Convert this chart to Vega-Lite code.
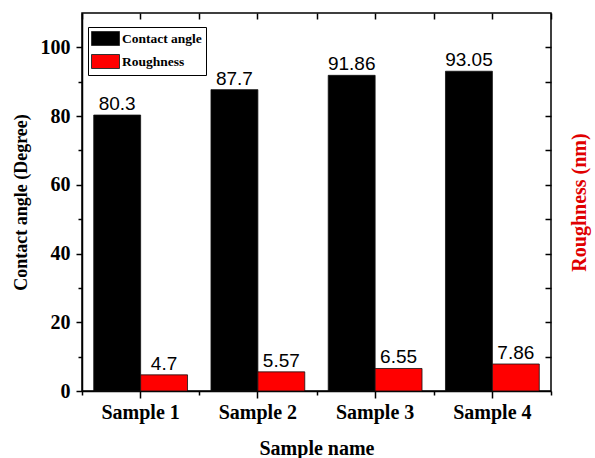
{
  "$schema": "https://vega.github.io/schema/vega-lite/v6.json",
  "width": 469,
  "height": 378,
  "autosize": "none",
  "padding": {"left": 82, "top": 13, "right": 44, "bottom": 67},
  "background": "white",
  "config": {
    "view": {"stroke": "black", "strokeWidth": 1.5},
    "axis": {
      "domainColor": "black", "domainWidth": 1.5, "tickColor": "black", "tickWidth": 1.5,
      "grid": false,
      "labelFont": "Liberation Serif", "labelFontWeight": "bold", "labelFontSize": 20, "labelColor": "black",
      "titleFont": "Liberation Serif", "titleFontWeight": "bold", "titleColor": "black"
    }
  },
  "data": {
    "values": [
      {"Sample": "Sample 1", "Series": "Contact angle", "Value": 80.3},
      {"Sample": "Sample 2", "Series": "Contact angle", "Value": 87.7},
      {"Sample": "Sample 3", "Series": "Contact angle", "Value": 91.86},
      {"Sample": "Sample 4", "Series": "Contact angle", "Value": 93.05},
      {"Sample": "Sample 1", "Series": "Roughness", "Value": 4.7},
      {"Sample": "Sample 2", "Series": "Roughness", "Value": 5.57},
      {"Sample": "Sample 3", "Series": "Roughness", "Value": 6.55},
      {"Sample": "Sample 4", "Series": "Roughness", "Value": 7.86}
    ]
  },
  "resolve": {"axis": {"x": "independent", "y": "independent"}},
  "layer": [
    {
      "mark": {"type": "bar", "stroke": "#111", "strokeWidth": 0.8},
      "encoding": {
        "x": {
          "field": "Sample", "type": "nominal",
          "scale": {"paddingInner": 0, "paddingOuter": 0},
          "axis": {"orient": "bottom", "labelAngle": 0, "tickSize": 7, "labelPadding": 4, "title": "Sample name", "titleFontSize": 20, "titlePadding": 16}
        },
        "xOffset": {
          "field": "Series", "type": "nominal",
          "scale": {"paddingInner": 0, "paddingOuter": 0.25}
        },
        "y": {
          "field": "Value", "type": "quantitative",
          "scale": {"domain": [0, 110], "nice": false, "zero": true},
          "axis": {
            "orient": "left",
            "values": [0, 10, 20, 30, 40, 50, 60, 70, 80, 90, 100],
            "labelExpr": "datum.value % 20 === 0 ? datum.label : ''",
            "tickSize": {"condition": {"test": "datum.value % 20 === 0", "value": 6}, "value": 4},
            "labelPadding": 6,
            "title": "Contact angle (Degree)", "titleFontSize": 18, "titlePadding": 10
          }
        },
        "color": {
          "field": "Series", "type": "nominal",
          "scale": {"domain": ["Contact angle", "Roughness"], "range": ["#000000", "#ff0000"]},
          "legend": {
            "orient": "none", "legendX": 6, "legendY": 14, "direction": "vertical",
            "title": null,
            "strokeColor": "black", "padding": 4, "rowPadding": 4,
            "symbolType": "M-2,-1H2V1H-2Z", "symbolSize": 196,
            "symbolOffset": 6, "symbolStrokeColor": "#333", "symbolStrokeWidth": 1,
            "labelFont": "Liberation Serif", "labelFontWeight": "bold", "labelFontSize": 13.5,
            "labelColor": "black", "labelOffset": 9
          }
        }
      }
    },
    {
      "mark": {"type": "text", "font": "Liberation Sans", "fontSize": 19, "baseline": "alphabetic", "dy": -5, "color": "black"},
      "encoding": {
        "x": {"field": "Sample", "type": "nominal", "axis": null},
        "xOffset": {"field": "Series", "type": "nominal"},
        "y": {"field": "Value", "type": "quantitative", "axis": null},
        "text": {"field": "Value", "type": "nominal"}
      }
    },
    {
      "mark": {"type": "bar", "opacity": 0},
      "encoding": {
        "x": {"field": "Sample", "type": "nominal", "axis": {"orient": "top", "labels": false, "tickSize": -6, "title": null, "domain": false}},
        "y": {
          "field": "Value", "type": "quantitative",
          "axis": {
            "orient": "right", "labels": false, "tickSize": -6, "domain": false,
            "values": [10, 20, 30, 40, 50, 60, 70, 80, 90, 100],
            "title": "Roughness (nm)", "titleColor": "#e00000", "titleFontSize": 20, "titleAngle": 270, "titlePadding": 38
          }
        }
      }
    },
    {
      "mark": {"type": "bar", "opacity": 0},
      "encoding": {
        "x": {"field": "Sample", "type": "nominal", "axis": {"orient": "bottom", "labels": false, "tickBand": "extent", "tickSize": 4, "title": null, "domain": false}},
        "y": {"field": "Value", "type": "quantitative", "axis": null}
      }
    },
    {
      "mark": {"type": "bar", "opacity": 0},
      "encoding": {
        "x": {"field": "Sample", "type": "nominal", "axis": {"orient": "top", "labels": false, "tickBand": "extent", "tickSize": -6, "title": null, "domain": false}},
        "y": {"field": "Value", "type": "quantitative", "axis": null}
      }
    }
  ]
}
